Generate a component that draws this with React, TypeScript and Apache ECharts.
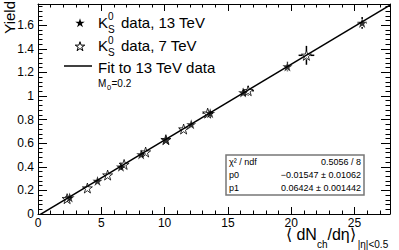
import React, { useEffect, useRef } from 'react';
import * as echarts from 'echarts';

// 13 TeV K0S data
const mult13 = [2.5, 4.7, 6.55, 8.15, 10.1, 12.1, 13.6, 16.2, 19.7, 25.6];
const yield13 = [0.14, 0.28, 0.40, 0.505, 0.63, 0.76, 0.855, 1.03, 1.25, 1.62];
const xerr13 = [0.15, 0.2, 0.2, 0.25, 0.25, 0.3, 0.3, 0.3, 0.3, 0.36];
const yerr13 = [0.012, 0.015, 0.02, 0.02, 0.025, 0.025, 0.03, 0.035, 0.04, 0.05];

// 7 TeV K0S data
const mult7 = [2.3, 3.9, 5.5, 6.8, 8.5, 10.1, 11.5, 13.4, 16.6, 21.2];
const yield7 = [0.13, 0.22, 0.33, 0.42, 0.525, 0.63, 0.72, 0.855, 1.045, 1.345];
const xerr7 = [0.2, 0.25, 0.25, 0.3, 0.3, 0.3, 0.35, 0.4, 0.45, 0.62];
const yerr7 = [0.012, 0.015, 0.02, 0.02, 0.025, 0.025, 0.03, 0.035, 0.04, 0.08];

// fit parameters (13 TeV)
const fitP0 = -0.01547;
const fitP1 = 0.06424;
const fitRange = [0, 27.8];

const xTicks = [0, 5, 10, 15, 20, 25];
const yTicks = [0, 0.2, 0.4, 0.6, 0.8, 1, 1.2, 1.4, 1.6];

const statsRows = [
  ['χ² / ndf', '0.5056 / 8'],
  ['p0', '−0.01547 ± 0.01062'],
  ['p1', '0.06424 ± 0.001442'],
];

const STAR = 'M50,2 L61.2,36.3 L97.6,36.3 L68.2,57.6 L79.4,91.9 L50,70.7 L20.6,91.9 L31.8,57.6 L2.4,36.3 L38.8,36.3 Z';
const FONT = "'Liberation Sans', Arial, Helvetica, sans-serif";

echarts.graphic.registerShape('legendStar', echarts.graphic.extendPath(STAR, {}));

const X_MAX = 27.8;
const Y_MAX = 1.78;

function txt(text: string, x: number, y: number, size: number, align = 'left', extra: any = {}) {
  return {
    type: 'text', x, y, silent: true, z: 100,
    style: { text, fontSize: size, fontFamily: FONT, fill: '#000', align, verticalAlign: 'middle', ...extra },
  };
}

export default function App() {
  const ref = useRef<HTMLDivElement>(null);
  useEffect(() => {
    if (!ref.current) return;
    const chart = echarts.init(ref.current, undefined, { renderer: 'svg' });
    const errData13 = mult13.map((x, i) => [x, yield13[i], xerr13[i], yerr13[i]]);
    const errData7 = mult7.map((x, i) => [x, yield7[i], xerr7[i], yerr7[i]]);
    const gap = 4;
    const renderErr = (params: any, api: any) => {
      const x = api.value(0), y = api.value(1), xe = api.value(2), ye = api.value(3);
      const c = api.coord([x, y]);
      const l = api.coord([x - xe, y]);
      const r = api.coord([x + xe, y]);
      const t = api.coord([x, y + ye]);
      const b = api.coord([x, y - ye]);
      const st = { stroke: '#000', lineWidth: 1.5 };
      const ch: any[] = [];
      if (c[0] - l[0] > gap) ch.push({ type: 'line', shape: { x1: l[0], y1: c[1], x2: c[0] - gap, y2: c[1] }, style: st });
      if (r[0] - c[0] > gap) ch.push({ type: 'line', shape: { x1: c[0] + gap, y1: c[1], x2: r[0], y2: c[1] }, style: st });
      if (c[1] - t[1] > gap) ch.push({ type: 'line', shape: { x1: c[0], y1: t[1], x2: c[0], y2: c[1] - gap }, style: st });
      if (b[1] - c[1] > gap) ch.push({ type: 'line', shape: { x1: c[0], y1: c[1] + gap, x2: c[0], y2: b[1] }, style: st });
      return { type: 'group', children: ch };
    };

    const axisCommonX = {
      type: 'value', min: 0, max: X_MAX, interval: 5,
      axisLine: { show: true, onZero: false, lineStyle: { color: '#000', width: 1 } },
      axisTick: { show: true, inside: true, length: 7, lineStyle: { color: '#000', width: 1 } },
      minorTick: { show: true, splitNumber: 5, length: 3.5, lineStyle: { color: '#000', width: 1 } },
      splitLine: { show: false }, minorSplitLine: { show: false },
    };
    const axisCommonY = {
      type: 'value', min: 0, max: Y_MAX, interval: 0.2,
      axisLine: { show: true, onZero: false, lineStyle: { color: '#000', width: 1 } },
      axisTick: { show: true, inside: true, length: 9, lineStyle: { color: '#000', width: 1 } },
      minorTick: { show: true, splitNumber: 5, length: 4.5, lineStyle: { color: '#000', width: 1 } },
      splitLine: { show: false }, minorSplitLine: { show: false },
    };

    const isTick = (v: number, arr: number[]) => arr.some((t) => Math.abs(t - v) < 1e-6);

    const graphics: any[] = [];
    // y title
    graphics.push({
      type: 'text', x: 9, y: 1, rotation: Math.PI / 2, z: 100,
      style: { text: 'Yield', fontSize: 15, fontFamily: FONT, fill: '#000', align: 'right', verticalAlign: 'middle' },
    });
    // x title as one rich text
    graphics.push({
      type: 'text', x: 286, y: 226, silent: true, z: 100,
      style: {
        text: '{m|⟨ dN}{s|ch}{m|/dη⟩}{s|\u2009|η|<0.5}',
        fontFamily: FONT, fill: '#000', align: 'left', verticalAlign: 'top',
        rich: {
          m: { fontSize: 16, lineHeight: 23, verticalAlign: 'top', fontFamily: FONT, fill: '#000' },
          s: { fontSize: 10, lineHeight: 10, verticalAlign: 'bottom', fontFamily: FONT, fill: '#000' },
        },
      },
    });

    // legend
    graphics.push({ type: 'legendStar', x: 75, y: 18, scaleX: 0.1, scaleY: 0.1, z: 100, style: { fill: '#000', stroke: '#000', lineWidth: 0 } });
    graphics.push(txt('K', 98, 22, 15));
    graphics.push(txt('S', 108, 29.5, 10));
    graphics.push(txt('0', 108, 16, 10));
    graphics.push(txt('data, 13 TeV', 121, 22, 15));
    graphics.push({ type: 'legendStar', x: 75, y: 41.5, scaleX: 0.1, scaleY: 0.1, z: 100, style: { fill: 'none', stroke: '#000', lineWidth: 1, strokeNoScale: true } });
    graphics.push(txt('K', 98, 45, 15));
    graphics.push(txt('S', 108, 52.5, 10));
    graphics.push(txt('0', 108, 40, 10));
    graphics.push(txt('data, 7 TeV', 121, 45, 15));
    graphics.push({ type: 'line', z: 100, shape: { x1: 64, y1: 66, x2: 92, y2: 66 }, style: { stroke: '#000', lineWidth: 1.5 } });
    graphics.push(txt('Fit to 13 TeV data', 98, 67, 15));
    graphics.push(txt('M', 98, 83, 10));
    graphics.push(txt('0', 107, 87, 7.5));
    graphics.push(txt('=0.2', 111.5, 83, 10));

    // stats box
    graphics.push({ type: 'rect', z: 90, shape: { x: 226, y: 155, width: 138, height: 40 }, style: { fill: '#fff', stroke: '#777', lineWidth: 1.5 } });
    statsRows.forEach((row, i) => {
      graphics.push(txt(row[0], 229, 162 + i * 13, 9));
      graphics.push(txt(row[1], 361, 162 + i * 13, 9, 'right'));
    });

    const option: any = {
      animation: false,
      grid: { left: 38, right: 9, top: 4, bottom: 36, containLabel: false },
      xAxis: [
        { ...axisCommonX, position: 'bottom',
          axisLabel: { show: true, fontSize: 12, fontFamily: FONT, color: '#000', margin: 3,
            formatter: (v: number) => (isTick(v, xTicks) ? String(v) : '') } },
        { ...axisCommonX, position: 'top', axisLabel: { show: false } },
      ],
      yAxis: [
        { ...axisCommonY, position: 'left',
          axisLabel: { show: true, fontSize: 12, fontFamily: FONT, color: '#000', margin: 4,
            formatter: (v: number) => (isTick(v, yTicks) ? String(Math.round(v * 10) / 10) : '') } },
        { ...axisCommonY, position: 'right', axisLabel: { show: false } },
      ],
      series: [
        { type: 'custom', name: 'err7', xAxisIndex: 0, yAxisIndex: 0, data: errData7, renderItem: renderErr, z: 2, silent: true },
        { type: 'custom', name: 'err13', xAxisIndex: 0, yAxisIndex: 0, data: errData13, renderItem: renderErr, z: 2, silent: true },
        { type: 'scatter', name: 'K0S data, 7 TeV', data: mult7.map((x, i) => [x, yield7[i]]),
          symbol: 'path://' + STAR, symbolSize: 10,
          itemStyle: { color: 'rgba(0,0,0,0)', borderColor: '#000', borderWidth: 1 }, z: 3 },
        { type: 'scatter', name: 'K0S data, 13 TeV', data: mult13.map((x, i) => [x, yield13[i]]),
          symbol: 'path://' + STAR, symbolSize: 10,
          itemStyle: { color: '#000', borderColor: '#000', borderWidth: 0 }, z: 4 },
        { type: 'line', name: 'Fit to 13 TeV data', showSymbol: false, clip: true,
          data: fitRange.map((x) => [x, fitP0 + fitP1 * x]),
          lineStyle: { color: '#000', width: 1.5 }, z: 5 },
      ],
      graphic: graphics,
    };
    chart.setOption(option);
    return () => chart.dispose();
  }, []);
  return <div ref={ref} style={{ position: 'absolute', left: 0, top: 0, width: 399, height: 250 }} />;
}
